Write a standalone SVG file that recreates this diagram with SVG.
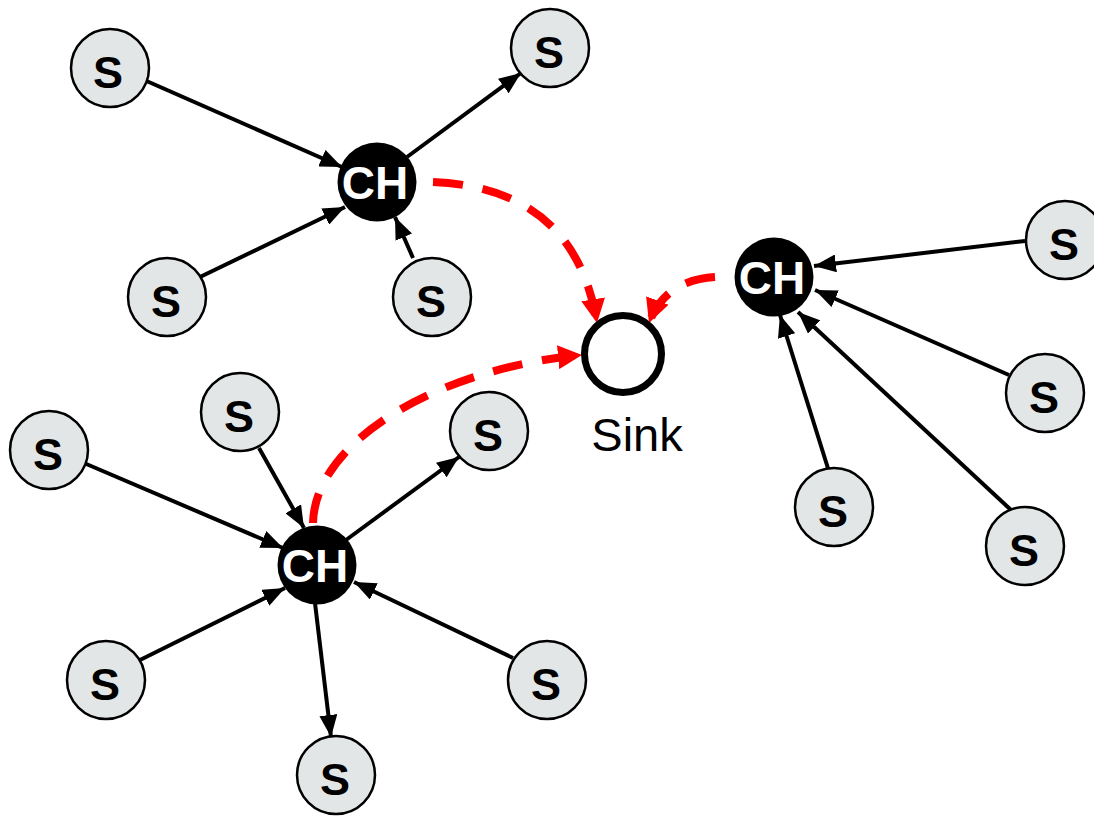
<svg xmlns="http://www.w3.org/2000/svg" width="1094" height="817" viewBox="0 0 1094 817">
<style>
.s circle{fill:#e2e6e6;stroke:#000;stroke-width:2.5}
.s text{font-family:"Liberation Sans",Arial,sans-serif;font-weight:bold;font-size:45px;fill:#000;text-anchor:middle}
.ch circle{fill:#000}
.ch text{font-family:"Liberation Sans",Arial,sans-serif;font-weight:bold;font-size:46px;fill:#fff;text-anchor:middle}
.c{stroke:#000;stroke-width:4;fill:none;marker-end:url(#ah)}
.r{stroke:#f00;stroke-width:8;fill:none;stroke-dasharray:30 20;marker-end:url(#rh)}
</style>
<defs>
<marker id="ah" markerUnits="userSpaceOnUse" markerWidth="22" markerHeight="18" refX="22" refY="9" orient="auto" viewBox="0 0 22 18"><path d="M0,0 L22,9 L0,18 z" fill="#000"/></marker>
<marker id="rh" markerUnits="userSpaceOnUse" markerWidth="24" markerHeight="24" refX="24" refY="12" orient="auto" viewBox="0 0 24 24"><path d="M0,0 L24,12 L0,24 z" fill="#f00"/></marker>
</defs>
<rect width="1094" height="817" fill="#fff"/>
<g id="connectors">
<line class="c" x1="142" y1="79" x2="342" y2="167"/>
<line class="c" x1="200" y1="277" x2="345" y2="207"/>
<line class="c" x1="413" y1="258" x2="395" y2="217"/>
<line class="c" x1="407" y1="157" x2="521" y2="73"/>
<line class="c" x1="1025" y1="241" x2="814" y2="266"/>
<line class="c" x1="1009" y1="375" x2="815" y2="290"/>
<line class="c" x1="1011" y1="510" x2="798" y2="312"/>
<line class="c" x1="831" y1="478" x2="780" y2="315"/>
<line class="c" x1="84" y1="463" x2="283" y2="548"/>
<line class="c" x1="259" y1="448" x2="304" y2="528"/>
<line class="c" x1="346" y1="540" x2="459" y2="457"/>
<line class="c" x1="140" y1="660" x2="285" y2="588"/>
<line class="c" x1="513" y1="658" x2="354" y2="582"/>
<line class="c" x1="315" y1="603" x2="331" y2="737"/>
<path class="r" d="M433,182 Q575,188 597,323"/>
<path class="r" d="M715,277 Q665,280 649,323"/>
<path class="r" d="M313,523 C315,440 440,368 582,355"/>
</g>
<g id="sink"><circle cx="623" cy="354" r="38.5" fill="#fff" stroke="#000" stroke-width="7"/><text x="637" y="451" font-family="Liberation Sans, Arial, sans-serif" font-size="47" text-anchor="middle">Sink</text></g>
<g id="ch1" class="ch"><circle cx="377" cy="182" r="39.5"/><text x="375" y="199">CH</text></g>
<g id="ch2" class="ch"><circle cx="774" cy="277" r="39.5"/><text x="772" y="294">CH</text></g>
<g id="ch3" class="ch"><circle cx="317" cy="565" r="39.5"/><text x="315" y="582">CH</text></g>
<g id="s1" class="s"><circle cx="110" cy="68" r="39"/><text x="108" y="88">S</text></g>
<g id="s2" class="s"><circle cx="550" cy="48" r="39"/><text x="549" y="68">S</text></g>
<g id="s3" class="s"><circle cx="167" cy="297" r="39"/><text x="166" y="317">S</text></g>
<g id="s4" class="s"><circle cx="432" cy="297" r="39"/><text x="431" y="317">S</text></g>
<g id="s5" class="s"><circle cx="1065" cy="240" r="39"/><text x="1064" y="260">S</text></g>
<g id="s6" class="s"><circle cx="1045" cy="393" r="39"/><text x="1044" y="413">S</text></g>
<g id="s7" class="s"><circle cx="834" cy="507" r="39"/><text x="833" y="527">S</text></g>
<g id="s8" class="s"><circle cx="1025" cy="546" r="39"/><text x="1024" y="566">S</text></g>
<g id="s9" class="s"><circle cx="240" cy="412" r="39"/><text x="239" y="432">S</text></g>
<g id="s10" class="s"><circle cx="49" cy="450" r="39"/><text x="48" y="470">S</text></g>
<g id="s11" class="s"><circle cx="489" cy="431" r="39"/><text x="488" y="451">S</text></g>
<g id="s12" class="s"><circle cx="106" cy="680" r="39"/><text x="105" y="700">S</text></g>
<g id="s13" class="s"><circle cx="547" cy="680" r="39"/><text x="546" y="700">S</text></g>
<g id="s14" class="s"><circle cx="336" cy="775" r="39"/><text x="335" y="795">S</text></g>
</svg>
